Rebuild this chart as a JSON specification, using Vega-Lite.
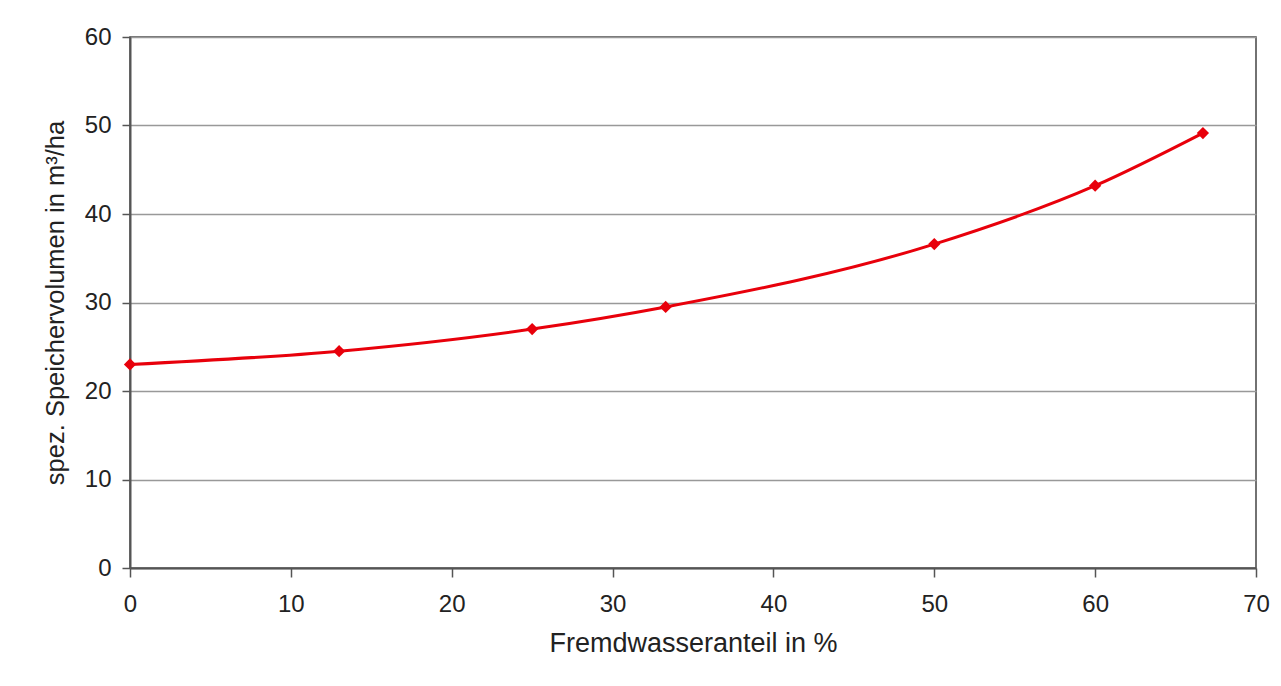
{
  "$schema": "https://vega.github.io/schema/vega-lite/v6.json",
  "width": 1126,
  "height": 531,
  "autosize": {"type": "none"},
  "padding": {"left": 130, "top": 37, "right": 25, "bottom": 118},
  "background": "white",
  "config": {
    "view": {"stroke": "#444", "strokeWidth": 1.5},
    "font": "Liberation Sans"
  },
  "data": {
    "values": [
      {"x": 0, "y": 23.0},
      {"x": 13, "y": 24.5},
      {"x": 25, "y": 27.0},
      {"x": 33.3, "y": 29.5},
      {"x": 50, "y": 36.6},
      {"x": 60, "y": 43.2},
      {"x": 66.7, "y": 49.15}
    ]
  },
  "encoding": {
    "x": {
      "field": "x", "type": "quantitative",
      "scale": {"domain": [0, 70], "nice": false},
      "axis": {
        "values": [0, 10, 20, 30, 40, 50, 60, 70],
        "grid": false,
        "labelFlush": false,
        "title": "Fremdwasseranteil in %",
        "titleFontSize": 27, "titleFontWeight": "normal", "titleColor": "#222",
        "titlePadding": 14,
        "labelFontSize": 24, "labelColor": "#222", "labelPadding": 15,
        "tickSize": 9, "tickColor": "#555", "tickWidth": 1.5,
        "domainColor": "#555", "domainWidth": 2
      }
    },
    "y": {
      "field": "y", "type": "quantitative",
      "scale": {"domain": [0, 60], "nice": false},
      "axis": {
        "values": [0, 10, 20, 30, 40, 50, 60],
        "grid": true, "gridColor": "#999", "gridWidth": 1.5,
        "labelFlush": false,
        "title": "spez. Speichervolumen in m³/ha",
        "titleFontSize": 25.5, "titleFontWeight": "normal", "titleColor": "#222",
        "titlePadding": 16,
        "labelFontSize": 24, "labelColor": "#222", "labelPadding": 11,
        "tickSize": 8, "tickColor": "#555", "tickWidth": 1.5,
        "domainColor": "#555", "domainWidth": 2
      }
    }
  },
  "layer": [
    {"mark": {"type": "line", "color": "#e8000b", "strokeWidth": 3, "interpolate": "monotone"}},
    {"mark": {"type": "point", "shape": "diamond", "filled": true, "color": "#e8000b", "size": 150, "opacity": 1}}
  ]
}
